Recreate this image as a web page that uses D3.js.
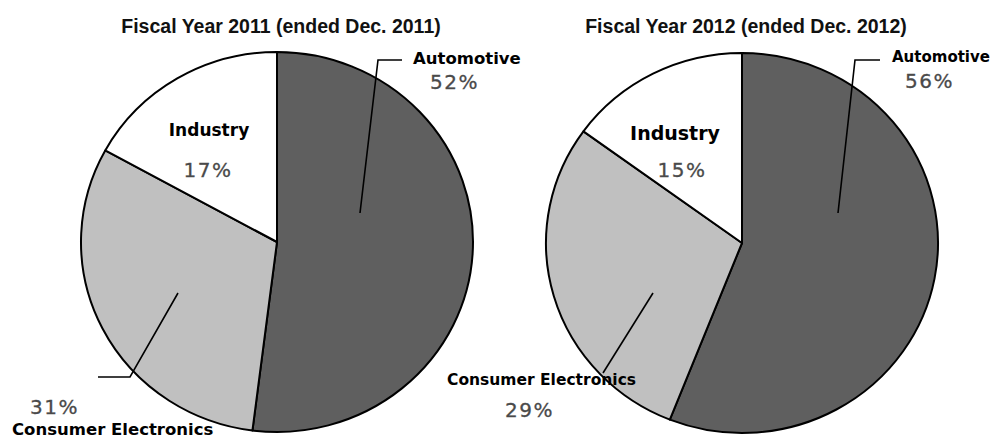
<!DOCTYPE html>
<html>

<head>
    <meta charset="utf-8" />
    <title>Sales by Segment</title>
    <script type="text/javascript" src="https://cdn.jsdelivr.net/npm/d3@7"></script>
    <style>
        body { margin: 0; background: #fff; }
        .title { font-family: "Liberation Sans", Arial, sans-serif; font-weight: bold; fill: #111; }
        .name { font-family: "DejaVu Sans", Verdana, sans-serif; font-weight: bold; fill: #000; }
        .pct { font-family: "DejaVu Sans", Verdana, sans-serif; fill: #4a4a4a; letter-spacing: 1.5px; stroke: #4a4a4a; stroke-width: 0.3px; }
    </style>
</head>

<body>
    <script type="text/javascript">
        // data
        var categories = ["Automotive", "Consumer Electronics", "Industry"];
        var values2011 = [52, 31, 17];
        var values2012 = [56, 29, 15];
        var titles = ["Fiscal Year 2011 (ended Dec. 2011)", "Fiscal Year 2012 (ended Dec. 2012)"];

        var _width = 991,
            _height = 439,
            _colors = d3.scaleOrdinal().domain(categories).range(["#5f5f5f", "#c0c0c0", "#ffffff"]);

        // layout of each pie and its labels (pixel offsets from the pie centre)
        var pies = [
            {
                values: values2011, title: titles[0], cx: 277, cy: 242, rx: 196, ry: 190,
                labels: [
                    { leader: [[83, -29], [101, -182], [125, -182]], name: [136, -178, "start", 16.5], pct: [153, -153, "start"] },
                    { leader: [[-99, 51], [-147, 135], [-179, 135]], name: [-265, 192.5, "start", 16.5], pct: [-247, 171.5, "start"] },
                    { leader: null, name: [-68, -106, "middle", 17], pct: [-69, -65, "middle"] }
                ]
            },
            {
                values: values2012, title: titles[1], cx: 742, cy: 243, rx: 196, ry: 190,
                labels: [
                    { leader: [[96, -30], [113, -183], [138, -183]], name: [150, -181, "start", 15], pct: [163, -155, "start"] },
                    { leader: [[-89, 50], [-139, 130]], name: [-295, 142, "start", 15.5], pct: [-237, 174, "start"] },
                    { leader: null, name: [-67, -103, "middle", 19], pct: [-60, -66, "middle"] }
                ]
            }
        ];

        var svg = d3.select("body")
            .append("svg")
            .attr("width", _width)
            .attr("height", _height);

        var pie = d3.pie().sort(null).value(function (d) { return d; });

        pies.forEach(function (p) {
            var arc = d3.arc().innerRadius(0).outerRadius(p.ry);

            svg.append("text")
                .attr("class", "title")
                .attr("x", p.cx + 4)
                .attr("y", 33)
                .attr("text-anchor", "middle")
                .style("font-size", "19.5px")
                .text(p.title);

            var g = svg.append("g")
                .attr("transform", "translate(" + p.cx + "," + p.cy + ")");

            g.append("g")
                .attr("transform", "scale(" + (p.rx / p.ry) + ",1)")
                .selectAll("path")
                .data(pie(p.values))
                .enter().append("path")
                .attr("d", arc)
                .attr("fill", function (d, i) { return _colors(categories[i]); })
                .attr("stroke", "#000")
                .attr("stroke-width", 2)
                .attr("stroke-linejoin", "round")
                .attr("vector-effect", "non-scaling-stroke");

            p.labels.forEach(function (l, i) {
                if (l.leader) {
                    g.append("path")
                        .attr("d", d3.line()(l.leader))
                        .attr("fill", "none")
                        .attr("stroke", "#000")
                        .attr("stroke-width", 1.6);
                }
                g.append("text")
                    .attr("class", "name")
                    .attr("x", l.name[0])
                    .attr("y", l.name[1])
                    .attr("text-anchor", l.name[2])
                    .style("font-size", l.name[3] + "px")
                    .text(categories[i]);
                g.append("text")
                    .attr("class", "pct")
                    .attr("x", l.pct[0])
                    .attr("y", l.pct[1])
                    .attr("text-anchor", l.pct[2])
                    .style("font-size", "20px")
                    .text(p.values[i] + "%");
            });
        });
    </script>
</body>

</html>
